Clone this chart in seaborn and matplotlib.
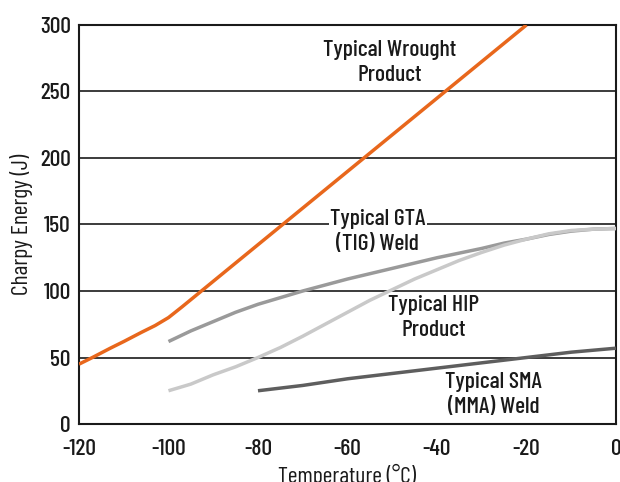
import matplotlib
matplotlib.use('Agg')
import matplotlib.pyplot as plt
import pandas as pd
import seaborn as sns

# Charpy energy vs temperature
wrought_temp = [-120, -117, -113, -110, -106, -103, -100, -97, -20]
wrought_energy = [45, 50, 57, 62, 69, 74, 80, 88, 300]

gta_temp = [-100, -95, -90, -85, -80, -75, -70, -65, -60, -55, -50,
            -45, -40, -35, -30, -25, -20, -15, -10, -5, 0]
gta_energy = [62, 70, 77, 84, 90, 95, 100, 104.5, 109, 113, 117,
              121, 125, 128.5, 132, 136, 139, 142.5, 145, 146.5, 147]

hip_temp = [-100, -95, -90, -85, -80, -75, -70, -65, -60, -55, -50,
            -45, -40, -35, -30, -25, -20, -15, -10, -5, 0]
hip_energy = [25, 30, 37, 43, 50, 57.5, 66, 75, 84, 93, 101,
              109, 116, 123, 129, 134.5, 139, 143, 145.5, 146.5, 147]

sma_temp = [-80, -70, -60, -50, -40, -30, -20, -10, 0]
sma_energy = [25, 29, 34, 38, 42, 46, 50, 54, 57]

x_ticks = [-120, -100, -80, -60, -40, -20, 0]
y_ticks = [0, 50, 100, 150, 200, 250, 300]

sns.set_style('white')
plt.rcParams['font.family'] = ['Barlow Condensed', 'DejaVu Sans']
plt.rcParams['font.weight'] = 'medium'
plt.rcParams['axes.unicode_minus'] = False

fig = plt.figure(figsize=(6.2, 4.82), dpi=100)
ax = fig.add_axes([0.1274, 0.1203, 0.8661, 0.8279])

series = [
    (wrought_temp, wrought_energy, '#E8671C'),
    (gta_temp, gta_energy, '#9A9A9A'),
    (hip_temp, hip_energy, '#C9C9C9'),
    (sma_temp, sma_energy, '#5E5E5E'),
]
for t, e, c in series:
    df = pd.DataFrame({'temp': t, 'energy': e})
    sns.lineplot(data=df, x='temp', y='energy', color=c, linewidth=2.5,
                 ax=ax, zorder=3, solid_capstyle='butt')

for y in y_ticks[1:-1]:
    ax.axhline(y, color='#1a1a1a', linewidth=1.2, zorder=1)

ax.set_xlim(-120, 0)
ax.set_ylim(0, 300)
ax.set_xticks(x_ticks)
ax.set_yticks(y_ticks)
ax.tick_params(axis='x', direction='out', length=5, width=1.2, color='#1a1a1a',
               labelsize=17, pad=6, labelcolor='#1a1a1a')
ax.tick_params(axis='y', length=0, labelsize=17, pad=6, labelcolor='#1a1a1a')
for s in ax.spines.values():
    s.set_color('#1a1a1a')
    s.set_linewidth(1.5)
    s.set_visible(True)

ax.set_xlabel('Temperature (°C)', fontsize=17, labelpad=3, color='#1a1a1a')
ax.set_ylabel('Charpy Energy (J)', fontsize=17, labelpad=5, color='#1a1a1a')

txt = dict(ha='center', va='center', fontsize=17, color='#1a1a1a',
           linespacing=1.3, zorder=4)
ax.text(-50.5, 272, 'Typical Wrought\nProduct', **txt)
ax.text(-53.2, 145, 'Typical GTA\n(TIG) Weld',
        bbox=dict(facecolor='white', edgecolor='none', pad=1.0), **txt)
ax.text(-40.7, 80, 'Typical HIP\nProduct', **txt)
ax.text(-27.3, 22, 'Typical SMA\n(MMA) Weld', **txt)

fig.savefig('out.png', dpi=100)
